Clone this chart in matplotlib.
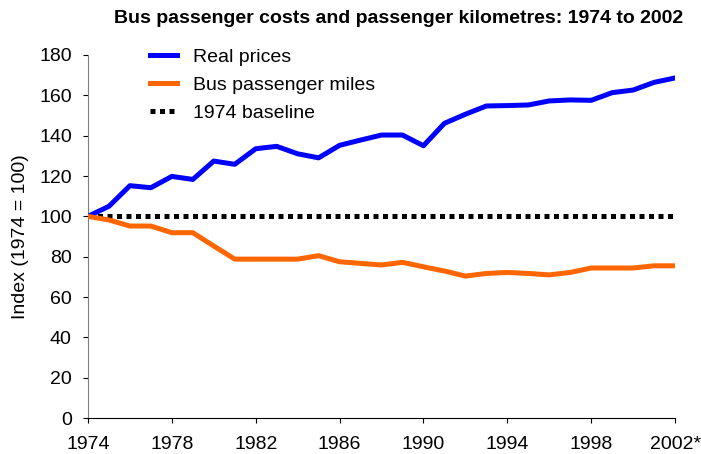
import matplotlib.pyplot as plt

plt.rcParams['font.family'] = ['Liberation Sans', 'DejaVu Sans']

years = list(range(1974, 2003))

# index values (1974 = 100)
real_prices = [100, 105, 115.2, 114.2, 119.8, 118.3, 127.4, 125.8, 133.5, 134.7,
               131, 129, 135.2, 137.8, 140.3, 140.3, 135, 146.1, 150.6, 154.7,
               154.9, 155.2, 157.2, 157.7, 157.5, 161.3, 162.6, 166.4, 168.6]
bus_miles = [100, 98.2, 95.2, 95.2, 91.9, 91.9, 85.3, 78.8, 78.8, 78.8,
             78.8, 80.5, 77.5, 76.7, 75.9, 77.2, 75, 72.9, 70.4, 71.7,
             72.2, 71.7, 71, 72.2, 74.4, 74.4, 74.4, 75.5, 75.5]
baseline = [100] * len(years)

xtick_years = [1974, 1978, 1982, 1986, 1990, 1994, 1998, 2002]
xtick_labels = ['1974', '1978', '1982', '1986', '1990', '1994', '1998', '2002*']

fig = plt.figure(figsize=(7.01, 4.54), dpi=100)
ax = fig.add_axes([0.1255, 0.079, 0.8375, 0.8])

ax.plot(years, real_prices, color='#0000FF', lw=3.6, label='Real prices', zorder=3)
ax.plot(years, bus_miles, color='#FF6600', lw=3.6, label='Bus passenger miles', zorder=3)
ax.plot(years, baseline, color='black', lw=3.6, ls=(0, (1, 0.9)), label='1974 baseline',
        zorder=2)

ax.set_xlim(1974, 2002)
ax.set_ylim(0, 180)
ax.set_xticks(xtick_years)
ax.set_xticklabels(xtick_labels)
ax.set_yticks(range(0, 181, 20))
ax.tick_params(labelsize=14, direction='out', length=3.6)
ax.tick_params(axis='x', pad=9)
ax.tick_params(axis='y', pad=8)
ax.spines['top'].set_visible(False)
ax.spines['right'].set_visible(False)
ax.spines['left'].set_color('#808080')
ax.set_ylabel('Index (1974 = 100)', fontsize=14, labelpad=7)

fig.text(0.569, 0.96, 'Bus passenger costs and passenger kilometres: 1974 to 2002',
         ha='center', va='center', fontsize=14, fontweight='bold')

ax.legend(loc='upper left', bbox_to_anchor=(0.106, 1.019), frameon=False, fontsize=14,
          handlelength=1.4, labelspacing=0.55, handletextpad=0.82,
          borderpad=0, borderaxespad=0)

fig.savefig('out.png', dpi=100)
